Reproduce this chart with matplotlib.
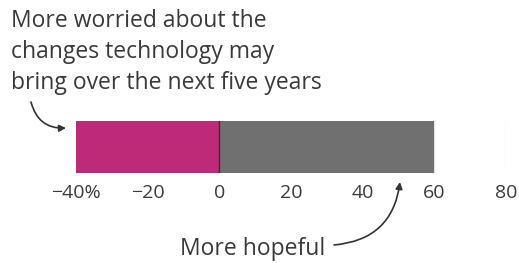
import matplotlib
matplotlib.use("Agg")
from matplotlib import pyplot as plt

# share of respondents
worried = -40
hopeful = 60
ticks = [-40, -20, 0, 20, 40, 60, 80]
tick_labels = ["\u221240%", "\u221220", "0", "20", "40", "60", "80"]

plt.rcParams["font.family"] = ["Open Sans", "DejaVu Sans"]
txt = "#3a3a3a"

fig = plt.figure(figsize=(5.19, 2.63), dpi=100)
W, H = 519, 263
ax = fig.add_axes([76 / W, 90 / H, 430 / W, 52 / H])

ax.barh(0, worried, height=1, left=0, color="#bd2a78", zorder=2)
ax.barh(0, hopeful, height=1, left=0, color="#707070", zorder=2)
ax.axvline(0, color="#333333", lw=1, zorder=3)

ax.set_xlim(-40, 80)
ax.set_ylim(-0.5, 0.5)
ax.set_xticks(ticks)
ax.set_xticklabels(tick_labels, fontsize=14, color=txt)
ax.tick_params(axis="x", length=0, pad=8)
ax.set_yticks([])
ax.grid(axis="x", color="#e6e6e6", lw=1, zorder=0)
for s in ax.spines.values():
    s.set_visible(False)

fig.text(11 / W, 1 - 9 / H,
         "More worried about the\nchanges technology may\nbring over the next five years",
         fontsize=16.5, color=txt, va="top", ha="left", linespacing=1.4)
fig.text(325 / W, 1 - 249 / H, "More hopeful", fontsize=16.5, color=txt,
         va="center", ha="right")

arrow = dict(arrowstyle="-|>", color="#333333", lw=1.2, mutation_scale=10,
             shrinkA=0, shrinkB=0)
ax.annotate("", xy=(66, 135), xycoords="figure pixels",
            xytext=(31, 161), textcoords="figure pixels",
            arrowprops=dict(arrow, connectionstyle="arc3,rad=0.4"))
ax.annotate("", xy=(400, 81), xycoords="figure pixels",
            xytext=(334, 18), textcoords="figure pixels",
            arrowprops=dict(arrow, connectionstyle="arc3,rad=0.4"))

fig.savefig("out.png", dpi=100, facecolor="white")
